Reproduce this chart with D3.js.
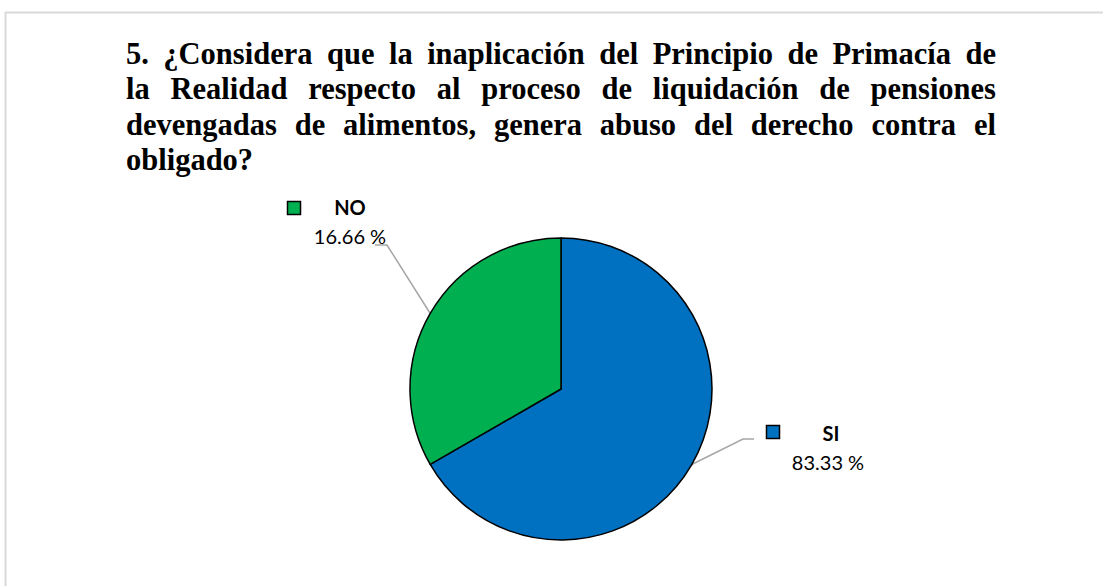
<!DOCTYPE html>
<html>
<head>
<meta charset="utf-8">
<script src="https://cdn.jsdelivr.net/npm/d3@7"></script>
<style>
  body { margin: 0; background: #fff; }
  svg { display: block; }
</style>
</head>
<body>
<div id="chart"></div>
<script>
let width = 1103;
let height = 586;

// data
let titleLines = [
    "5. ¿Considera que la inaplicación del Principio de Primacía de",
    "la Realidad respecto al proceso de liquidación de pensiones",
    "devengadas de alimentos, genera abuso del derecho contra el",
    "obligado?"
];
let categories = ["SI", "NO"];
let sliceShare = [66.67, 33.33];        // share of the circle as drawn
let labelPct = ["83.33 %", "16.66 %"];  // text printed next to each slice
let sliceColors = ["#0070C0", "#00B050"];

let svg = d3.select("#chart")
    .append("svg")
    .attr("width", width)
    .attr("height", height);

// outer chart frame (light gray)
svg.append("rect")
    .attr("x", 5.5)
    .attr("y", 12.5)
    .attr("width", width + 20)
    .attr("height", height + 20)
    .attr("fill", "none")
    .attr("stroke", "#d9d9d9")
    .attr("stroke-width", 2);

// title, justified between left and right edges
let titleLeft = 126, titleRight = 996;
let titleG = svg.append("g")
    .attr("font-family", "'Liberation Serif', 'Times New Roman', serif")
    .attr("font-weight", "bold")
    .attr("font-size", 30.5)
    .attr("fill", "#000");

titleLines.forEach(function(line, i) {
    let y = 64 + i * 35.3;
    let words = line.split(" ");
    let nodes = words.map(function(w) {
        return titleG.append("text").attr("y", y).text(w);
    });
    let widths = nodes.map(function(n) { return n.node().getComputedTextLength(); });
    let last = i === titleLines.length - 1;
    let gap = last ? 7 : (titleRight - titleLeft - d3.sum(widths)) / (words.length - 1);
    let x = titleLeft;
    nodes.forEach(function(n, j) {
        n.attr("x", x);
        x += widths[j] + gap;
    });
});

// pie
let cx = 561, cy = 389, radius = 151;
let color = d3.scaleOrdinal().domain(categories).range(sliceColors);

let pie = d3.pie().sort(null).value(function(d) { return d.share; });
let arc = d3.arc().innerRadius(0).outerRadius(radius);

let pieData = categories.map(function(c, i) {
    return { name: c, share: sliceShare[i], pct: labelPct[i] };
});
let arcs = pie(pieData);

let pieG = svg.append("g").attr("transform", "translate(" + cx + "," + cy + ")");

// leader lines from slice edge (mid angle) to the label
let leaders = {
    SI: { elbow: [743, 439], end: [754, 439] },
    NO: { elbow: [387, 245], end: [375, 245] }
};
arcs.forEach(function(a) {
    let mid = (a.startAngle + a.endAngle) / 2;
    let L = leaders[a.data.name];
    let sx = cx + Math.sin(mid) * radius;
    let sy = cy - Math.cos(mid) * radius;
    svg.insert("polyline", "g")
        .attr("points", [[sx, sy], L.elbow, L.end].map(function(p) { return p.join(","); }).join(" "))
        .attr("fill", "none")
        .attr("stroke", "#a6a6a6")
        .attr("stroke-width", 1.5);
});

pieG.selectAll("path")
    .data(arcs)
    .enter()
    .append("path")
    .attr("d", arc)
    .attr("fill", function(d) { return color(d.data.name); })
    .attr("stroke", "#000")
    .attr("stroke-width", 1.5)
    .attr("stroke-linejoin", "round");

// data labels with legend key
let labelPos = {
    SI: { box: [766, 425], name: [831, 441], pct: [828, 470] },
    NO: { box: [287, 201], name: [350, 215], pct: [350, 244] }
};
let labelFont = "Lato, 'Open Sans', sans-serif";
arcs.forEach(function(a) {
    let p = labelPos[a.data.name];
    svg.append("rect")
        .attr("x", p.box[0] + 0.5)
        .attr("y", p.box[1] + 0.5)
        .attr("width", 13)
        .attr("height", 13)
        .attr("fill", color(a.data.name))
        .attr("stroke", "#000")
        .attr("stroke-width", 1.5);
    svg.append("text")
        .attr("x", p.name[0])
        .attr("y", p.name[1])
        .attr("text-anchor", "middle")
        .attr("font-family", labelFont)
        .attr("font-weight", "bold")
        .attr("font-size", 20)
        .attr("fill", "#000")
        .text(a.data.name);
    svg.append("text")
        .attr("x", p.pct[0])
        .attr("y", p.pct[1])
        .attr("text-anchor", "middle")
        .attr("font-family", labelFont)
        .attr("font-size", 20)
        .attr("fill", "#000")
        .text(a.data.pct);
});
</script>
</body>
</html>
